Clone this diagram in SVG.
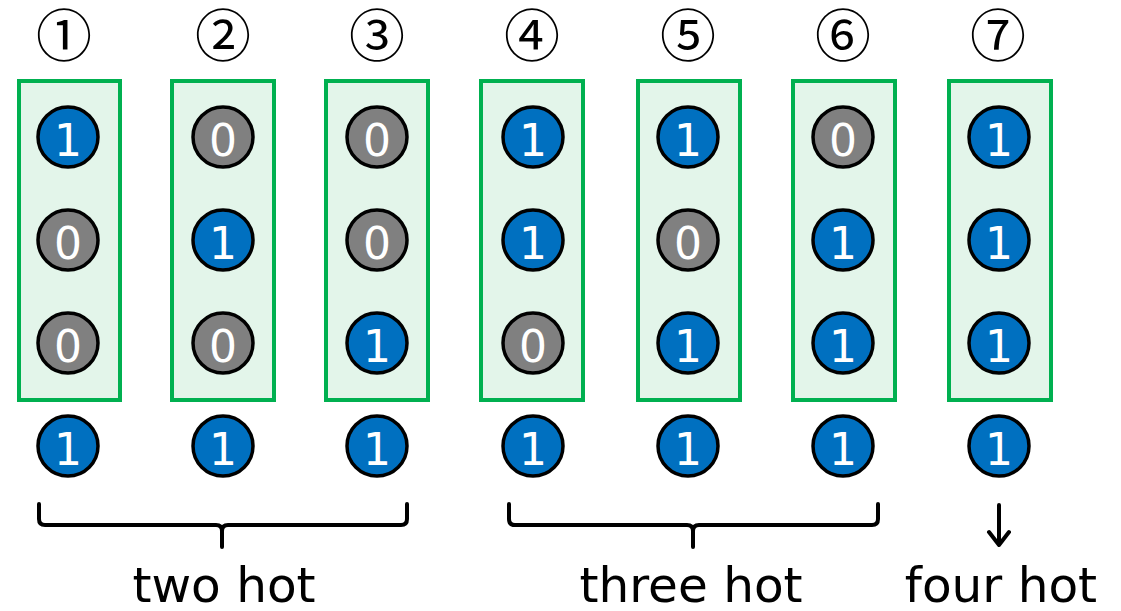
<svg xmlns="http://www.w3.org/2000/svg" width="1121" height="611" viewBox="0 0 1121 611">
  <style>
    .box { fill: #E3F5EA; stroke: #00B050; stroke-width: 4; }
    .one { fill: #0070C0; stroke: #000; stroke-width: 3.5; }
    .zero { fill: #808080; stroke: #000; stroke-width: 3.5; }
    .dig { font-family: "DejaVu Sans", sans-serif; font-size: 44px; fill: #fff; text-anchor: middle; }
    .num { font-family: "Noto Sans CJK JP", "DejaVu Sans", sans-serif; font-size: 56px; fill: #000; text-anchor: middle; }
    .lbl { font-family: "DejaVu Sans", sans-serif; font-size: 48.5px; fill: #000; text-anchor: middle; }
    .brace { fill: none; stroke: #000; stroke-width: 4; stroke-linecap: round; stroke-linejoin: round; }
  </style>

  <!-- column 1 -->
  <g id="col1">
    <text class="num" x="64" y="56">①</text>
    <rect class="box" x="19" y="81" width="101" height="319"/>
    <circle class="one" cx="68" cy="137" r="30"/><text class="dig" x="68" y="156">1</text>
    <circle class="zero" cx="68" cy="240" r="30"/><text class="dig" x="68" y="259">0</text>
    <circle class="zero" cx="68" cy="343" r="30"/><text class="dig" x="68" y="362">0</text>
    <circle class="one" cx="68" cy="446" r="30"/><text class="dig" x="68" y="465">1</text>
  </g>
  <!-- column 2 -->
  <g id="col2">
    <text class="num" x="223" y="56">②</text>
    <rect class="box" x="172" y="81" width="102" height="319"/>
    <circle class="zero" cx="223" cy="137" r="30"/><text class="dig" x="223" y="156">0</text>
    <circle class="one" cx="223" cy="240" r="30"/><text class="dig" x="223" y="259">1</text>
    <circle class="zero" cx="223" cy="343" r="30"/><text class="dig" x="223" y="362">0</text>
    <circle class="one" cx="223" cy="446" r="30"/><text class="dig" x="223" y="465">1</text>
  </g>
  <!-- column 3 -->
  <g id="col3">
    <text class="num" x="377" y="56">③</text>
    <rect class="box" x="326" y="81" width="102" height="319"/>
    <circle class="zero" cx="377" cy="137" r="30"/><text class="dig" x="377" y="156">0</text>
    <circle class="zero" cx="377" cy="240" r="30"/><text class="dig" x="377" y="259">0</text>
    <circle class="one" cx="377" cy="343" r="30"/><text class="dig" x="377" y="362">1</text>
    <circle class="one" cx="377" cy="446" r="30"/><text class="dig" x="377" y="465">1</text>
  </g>
  <!-- column 4 -->
  <g id="col4">
    <text class="num" x="532" y="56">④</text>
    <rect class="box" x="481" y="81" width="102" height="319"/>
    <circle class="one" cx="533" cy="137" r="30"/><text class="dig" x="533" y="156">1</text>
    <circle class="one" cx="533" cy="240" r="30"/><text class="dig" x="533" y="259">1</text>
    <circle class="zero" cx="533" cy="343" r="30"/><text class="dig" x="533" y="362">0</text>
    <circle class="one" cx="533" cy="446" r="30"/><text class="dig" x="533" y="465">1</text>
  </g>
  <!-- column 5 -->
  <g id="col5">
    <text class="num" x="688" y="56">⑤</text>
    <rect class="box" x="638" y="81" width="102" height="319"/>
    <circle class="one" cx="688" cy="137" r="30"/><text class="dig" x="688" y="156">1</text>
    <circle class="zero" cx="688" cy="240" r="30"/><text class="dig" x="688" y="259">0</text>
    <circle class="one" cx="688" cy="343" r="30"/><text class="dig" x="688" y="362">1</text>
    <circle class="one" cx="688" cy="446" r="30"/><text class="dig" x="688" y="465">1</text>
  </g>
  <!-- column 6 -->
  <g id="col6">
    <text class="num" x="843" y="56">⑥</text>
    <rect class="box" x="793" y="81" width="102" height="319"/>
    <circle class="zero" cx="843" cy="137" r="30"/><text class="dig" x="843" y="156">0</text>
    <circle class="one" cx="843" cy="240" r="30"/><text class="dig" x="843" y="259">1</text>
    <circle class="one" cx="843" cy="343" r="30"/><text class="dig" x="843" y="362">1</text>
    <circle class="one" cx="843" cy="446" r="30"/><text class="dig" x="843" y="465">1</text>
  </g>
  <!-- column 7 -->
  <g id="col7">
    <text class="num" x="998" y="56">⑦</text>
    <rect class="box" x="949" y="81" width="102" height="319"/>
    <circle class="one" cx="999" cy="137" r="30"/><text class="dig" x="999" y="156">1</text>
    <circle class="one" cx="999" cy="240" r="30"/><text class="dig" x="999" y="259">1</text>
    <circle class="one" cx="999" cy="343" r="30"/><text class="dig" x="999" y="362">1</text>
    <circle class="one" cx="999" cy="446" r="30"/><text class="dig" x="999" y="465">1</text>
  </g>

  <!-- group brackets and arrow -->
  <g id="connectors">
    <path class="brace" d="M39,504 V519 Q39,525 45,525 H216 Q222,525 222,531 V547 M222,531 Q222,525 228,525 H401 Q407,525 407,519 V504"/>
    <path class="brace" d="M509,504 V519 Q509,525 515,525 H687 Q693,525 693,531 V547 M693,531 Q693,525 699,525 H872 Q878,525 878,519 V504"/>
    <path class="brace" d="M999,505 V545 M989,532 L999,545 L1009,532"/>
  </g>

  <!-- labels -->
  <g id="labels">
    <text class="lbl" x="224" y="602">two hot</text>
    <text class="lbl" x="691" y="602">three hot</text>
    <text class="lbl" x="1001" y="602">four hot</text>
  </g>
</svg>
